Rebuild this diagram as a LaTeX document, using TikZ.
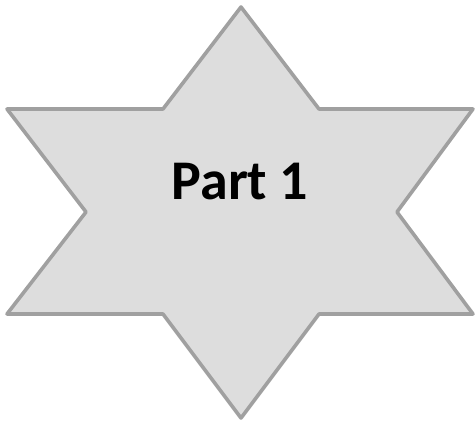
\documentclass[tikz,border=0pt]{standalone}
\usepackage{fontspec}
\setmainfont{Carlito}
\usepackage{xcolor}
\usepackage{tikz}
\usetikzlibrary{positioning}

\definecolor{starfill}{HTML}{DDDDDD}
\definecolor{starline}{HTML}{A0A0A0}

\begin{document}
\begin{tikzpicture}[
  x=1pt, y=-1pt,
  star/.style={draw=starline, fill=starfill, line width=3.6pt, line join=round},
  title/.style={font=\fontsize{56}{60}\selectfont\bfseries, text=black}
]
  \useasboundingbox (0,0) rectangle (475,423);

  % six-pointed star
  \draw[star] (241,7) -- (319,109) -- (473,109) -- (397,212) -- (473,314)
    -- (319,314) -- (241,418) -- (163,314) -- (7,314) -- (86,212)
    -- (7,109) -- (163,109) -- cycle;

  \node[title] (part) at (240,182) {Part 1};
\end{tikzpicture}
\end{document}
